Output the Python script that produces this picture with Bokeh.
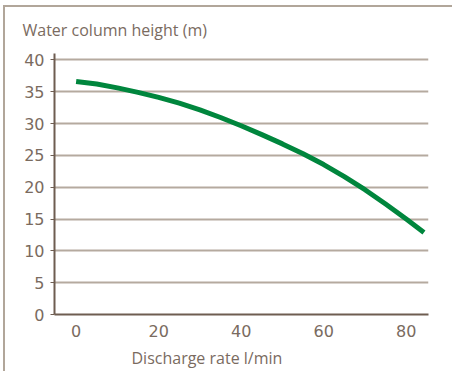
from bokeh.plotting import figure
from bokeh.models import FixedTicker, Range1d, Title
from bokeh.embed import file_html
from bokeh.resources import INLINE

flow = [0, 5, 10, 15, 20, 25, 30, 35, 40, 45, 50, 55, 60, 65, 70, 75, 80, 84.3]
height = [36.6, 36.2, 35.6, 34.9, 34.1, 33.2, 32.15, 30.95, 29.65, 28.25, 26.8,
          25.25, 23.55, 21.65, 19.6, 17.35, 15.0, 12.9]
x_ticks = [0, 20, 40, 60, 80]
y_ticks = [0, 5, 10, 15, 20, 25, 30, 35, 40]
y_title = "Water column height (m)"
x_title = "Discharge rate l/min"

FONT = "Open Sans"
NUM_FONT = "DejaVu Sans"
TXT = "#7a6b5f"
AXIS = "#6e5d51"
GRID = "#b5aa9f"
FRAME = "#b1a69a"

p = figure(width=449, height=366, output_backend="svg", toolbar_location=None,
           x_range=Range1d(-5.24, 85.4), y_range=Range1d(0, 41),
           min_border_left=49, min_border_right=26, min_border_bottom=57,
           min_border_top=46, title=y_title)
p.styles = {"border-left": f"2px solid {FRAME}", "border-top": f"2px solid {FRAME}",
            "margin-left": "3px", "margin-top": "5px"}

p.title.text_font = FONT
p.title.text_font_size = "16px"
p.title.text_font_style = "normal"
p.title.text_color = TXT
p.title.align = "left"
p.title.vertical_align = "top"
p.title.offset = -32
p.title.standoff = 22

p.outline_line_color = None
p.background_fill_color = "white"
p.border_fill_color = "white"

p.xgrid.visible = False
p.ygrid.ticker = FixedTicker(ticks=y_ticks)
p.ygrid.grid_line_color = GRID
p.ygrid.grid_line_width = 2

p.xaxis.ticker = FixedTicker(ticks=x_ticks)
p.yaxis.ticker = FixedTicker(ticks=y_ticks)
for ax in (p.xaxis[0], p.yaxis[0]):
    ax.axis_line_color = AXIS
    ax.axis_line_width = 2
    ax.major_label_text_font = NUM_FONT
    ax.major_label_text_font_size = "16px"
    ax.major_label_text_color = TXT
    ax.minor_tick_line_color = None

p.xaxis.major_tick_line_color = None
p.xaxis.major_label_standoff = 4

p.yaxis.major_tick_line_color = AXIS
p.yaxis.major_tick_line_width = 1
p.yaxis.major_tick_out = 4
p.yaxis.major_tick_in = 0
p.yaxis.major_label_standoff = 6

p.add_layout(Title(text=x_title, align="left", offset=77, standoff=10,
                   text_font=FONT, text_font_size="16px",
                   text_font_style="normal", text_color=TXT), "below")

p.line(flow, height, line_color="#00863d", line_width=5, line_join="round")

open("out.html", "w").write(file_html(p, INLINE))
